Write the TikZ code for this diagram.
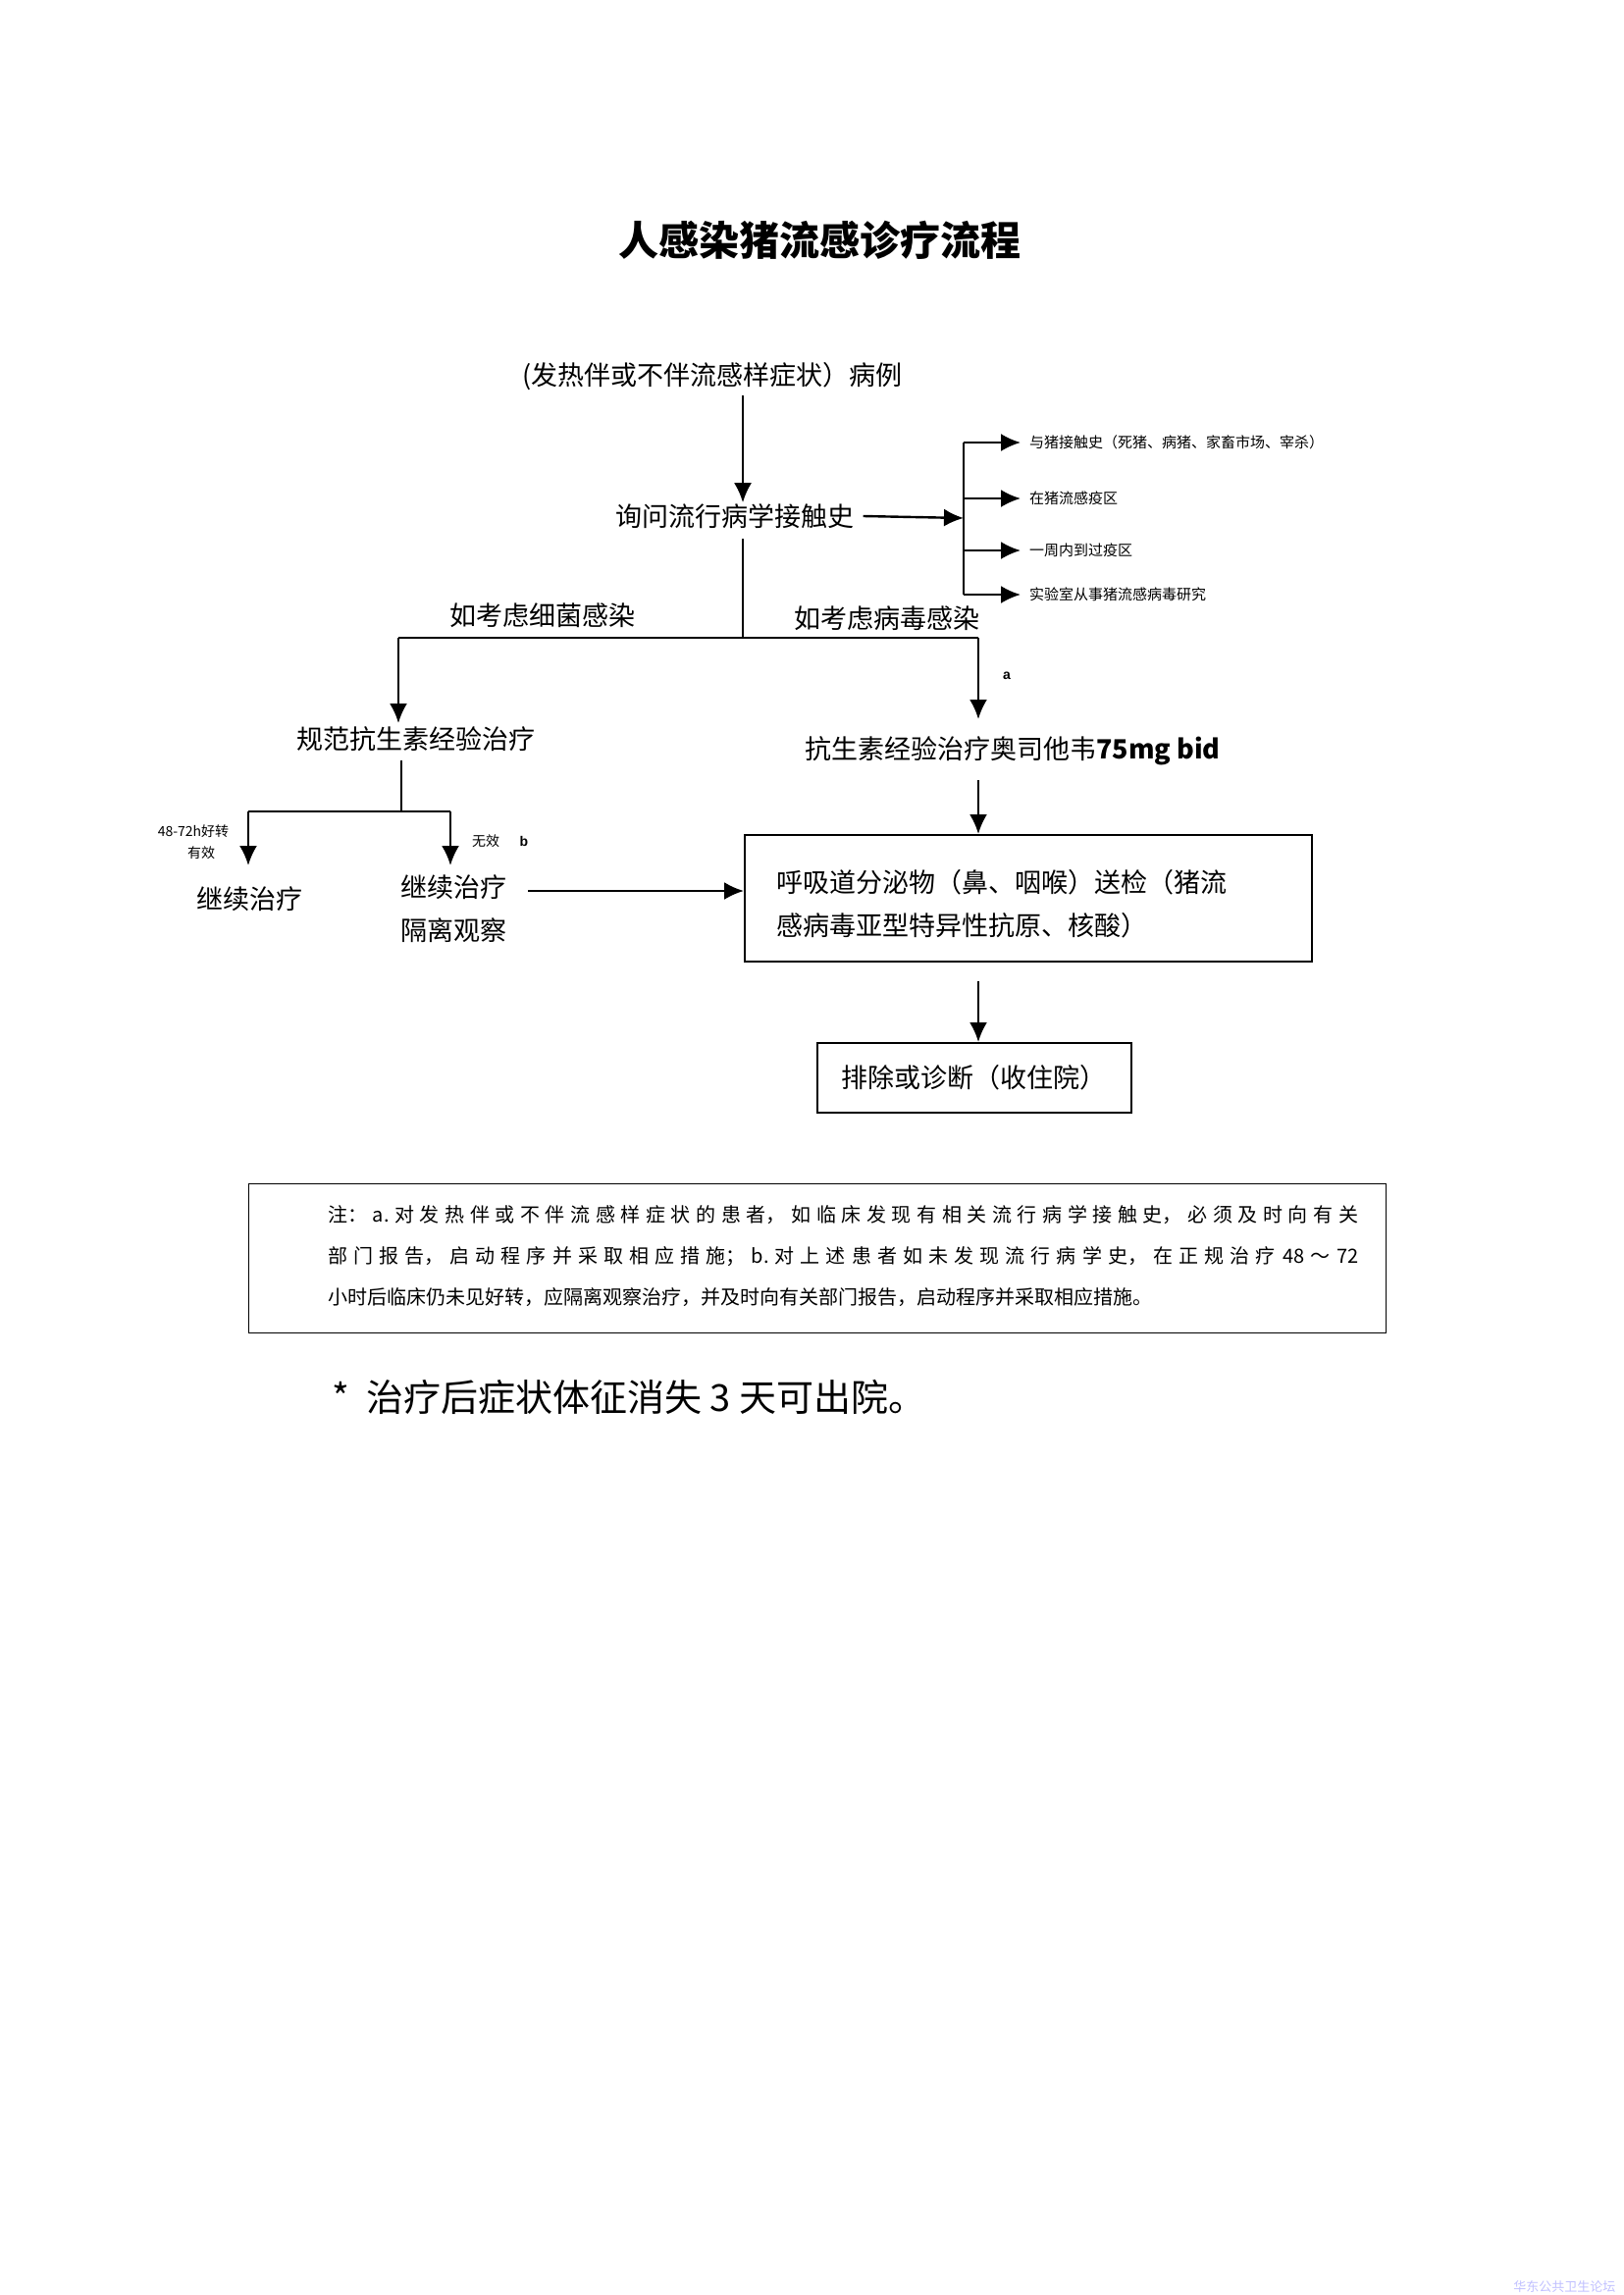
\documentclass[tikz,border=0pt]{standalone}
\usepackage{fontspec}
\setmainfont{Liberation Sans}
\newfontfamily\cjk{Noto Sans CJK SC}
\XeTeXlinebreaklocale "zh"
\XeTeXlinebreakskip=0pt plus 4pt
\usetikzlibrary{arrows.meta,positioning}

\begin{document}
\begin{tikzpicture}[x=1pt, y=-1pt,
    txt/.style={font=\cjk\fontsize{27}{30}\selectfont, inner sep=1pt},
    small/.style={font=\cjk\fontsize{15}{17}\selectfont, inner sep=1pt},
    note/.style={font=\cjk\fontsize{20}{42}\selectfont, inner sep=0pt, align=justify, text width=1050pt},
    box/.style={draw, line width=1.5pt},
    arr/.style={line width=2.4pt, -{Latex[length=20pt,width=18pt]}},
    ln/.style={line width=1.5pt},
]
\useasboundingbox (0,0) rectangle (1654,2339);

% Title
\node[font=\cjk\bfseries\fontsize{41}{45}\selectfont] (title) at (835,245) {人感染猪流感诊疗流程};

% Main column
\node[txt] (case) at (726,384) {(发热伴或不伴流感样症状）病例};
\node[txt] (ask) at (749,526) {询问流行病学接触史};
\draw[arr] (757,403) -- (ask.north -| 757,0);

% Contact history
\coordinate (bus) at (982,528);
\draw[arr] (ask.east) ++(8,0) -- (bus);
\draw[ln] (982,451) -- (982,606);
\node[small, anchor=west] (c1) at (1048,451) {与猪接触史（死猪、病猪、家畜市场、宰杀）};
\node[small, anchor=west] (c2) at (1048,508) {在猪流感疫区};
\node[small, anchor=west] (c3) at (1048,561) {一周内到过疫区};
\node[small, anchor=west] (c4) at (1048,606) {实验室从事猪流感病毒研究};
\foreach \c in {c1,c2,c3,c4}
    \draw[arr] (\c.west -| 982,0) -- ([xshift=-8pt]\c.west);

% Split
\coordinate (split) at (757,650);
\draw[ln] (757,549) -- (split);
\draw[ln] (406,650) -- (997,650);
\node[txt] (bact) at (553,627) {如考虑细菌感染};
\node[txt] (vir) at (904,630) {如考虑病毒感染};
\node[font=\fontsize{14}{16}\selectfont\bfseries] (a) at (1026,689) {a};

\node[txt] (abx) at (424,753) {规范抗生素经验治疗};
\node[txt, anchor=center] (osv) at (1032,765) {抗生素经验治疗奥司他韦\textbf{75mg bid}};
\draw[arr] (406,650) -- (406,737);
\draw[arr] (997,650) -- (997,733);

% Sampling
\node[box, minimum width=578pt, minimum height=129pt, anchor=north west] (samp) at (758,850) {};
\node[txt, anchor=west] (s1) at (790,899) {呼吸道分泌物（鼻、咽喉）送检（猪流};
\node[txt, anchor=west] (s2) at (790,943) {感病毒亚型特异性抗原、核酸）};
\draw[arr] (997,795) -- (samp.north -| 997,0);

\node[box, txt, minimum width=320pt, minimum height=71pt, anchor=north west] (diag) at (832,1062) {排除或诊断（收住院）};
\draw[arr] (997,1000) -- (diag.north -| 997,0);

% Bacterial branch
\draw[ln] (409,775) -- (409,827);
\draw[ln] (253,827) -- (459,827);
\draw[arr] (253,827) -- (253,882);
\draw[arr] (459,827) -- (459,882);
\node[small, font=\cjk\fontsize{14}{16}\selectfont] (good) at (197,847) {48-72h好转};
\node[small, font=\cjk\fontsize{14}{16}\selectfont] (eff) at (205,869) {有效};
\node[small, font=\cjk\fontsize{14}{16}\selectfont] (ineff) at (495,857) {无效};
\node[font=\fontsize{14}{16}\selectfont\bfseries] (b) at (534,857) {b};
\node[txt] (cont) at (254,916) {继续治疗};
\node[txt, align=center, font=\cjk\fontsize{27}{44}\selectfont] (iso) at (462,926) {继续治疗\\隔离观察};
\draw[arr] (538,908) -- (samp.west |- 0,908);

% Notes
\node[draw, line width=1.2pt, minimum width=1159pt, minimum height=152pt, anchor=north west] (nbox) at (253,1206) {};
\node[note, anchor=north west] (ntext) at (334,1228) {\parfillskip=0pt 注：a.对发热伴或不伴流感样症状的患者，如临床发现有相关流行病学接触史，必须及时向有关\linebreak 部门报告，启动程序并采取相应措施；b.对上述患者如未发现流行病学史，在正规治疗 48～72\linebreak 小时后临床仍未见好转，应隔离观察治疗，并及时向有关部门报告，启动程序并采取相应措施。};

\node[font=\cjk\fontsize{38}{42}\selectfont, anchor=west] (disch) at (335,1424) {*\ \ 治疗后症状体征消失 3 天可出院。};

% Watermark
\node[font=\cjk\fontsize{13}{15}\selectfont, text=blue!25, anchor=east] (wm) at (1650,2330) {华东公共卫生论坛};
\end{tikzpicture}
\end{document}
